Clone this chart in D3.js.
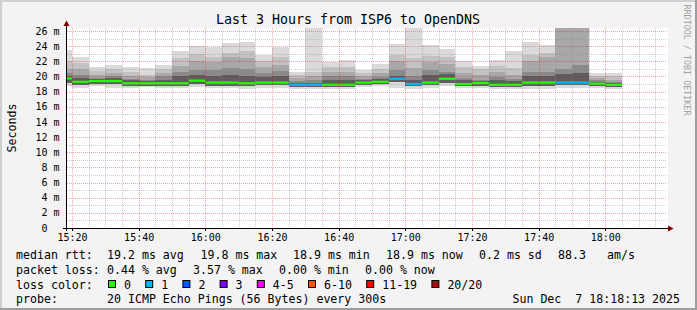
<!DOCTYPE html>
<html>
<head>
<meta charset="utf-8">
<script src="https://cdn.jsdelivr.net/npm/d3@7"></script>
<style>
body { margin: 0; background: #f3f3f3; }
text { font-family: "DejaVu Sans Mono", monospace; white-space: pre; }
</style>
</head>
<body>
<script>
// one slot = 5 min (300s), 20 pings per slot
var times = ["15:15","15:20","15:25","15:30","15:35","15:40","15:45","15:50","15:55","16:00",
             "16:05","16:10","16:15","16:20","16:25","16:30","16:35","16:40","16:45","16:50",
             "16:55","17:00","17:05","17:10","17:15","17:20","17:25","17:30","17:35","17:40",
             "17:45","17:50","17:55","18:00"];

// median rtt (ms)
var median = [19.75,19.3,19.4,19.4,19.1,19.1,19.1,19.1,19.45,19.2,
              19.2,19.1,19.2,19.2,18.9,18.9,18.9,18.9,19.2,19.3,
              19.7,19.0,19.2,19.7,19.0,19.15,18.9,18.9,19.2,19.2,
              19.2,19.2,19.05,18.9];

// lost pings out of 20
var lossCount = [0,0,0,0,0,0,0,0,0,0,
                 0,0,0,0,1,1,0,0,0,0,
                 1,1,0,0,0,0,0,0,0,0,
                 1,1,0,0];

// smoke: sorted ping ranks (ms)
var pingMax = [23.5,22.6,21.2,21.5,21.2,21.1,21.5,23.3,24.0,23.9,
               24.4,24.5,22.9,23.9,20.6,27.0,21.9,22.2,20.9,21.7,
               24.3,27.0,24.1,23.6,22.0,21.4,22.2,23.3,24.5,24.1,
               30.0,30.0,20.5,20.4];
var ping18 = [22.0,21.8,20.7,21.0,20.6,20.2,21.0,22.4,23.0,22.6,
              23.1,23.4,22.0,22.6,20.2,20.6,21.2,21.3,20.4,21.0,
              22.8,22.4,22.7,22.6,21.3,21.0,21.4,21.1,22.8,23.1,
              28.0,28.0,20.1,20.0];
var ping16 = [21.0,21.0,20.2,20.5,20.1,19.9,20.5,21.4,22.0,21.9,
              22.6,22.5,21.3,21.5,19.8,20.0,20.6,20.6,20.0,20.4,
              22.0,21.1,21.9,21.6,20.4,20.2,20.6,20.2,22.0,22.6,
              27.0,27.0,19.8,19.6];
var ping14 = [20.4,20.2,19.8,20.0,19.7,19.6,20.0,20.6,20.8,20.8,
              21.1,21.0,20.5,20.7,19.4,19.5,20.0,20.0,19.7,19.9,
              20.9,20.1,20.9,20.6,19.8,19.6,19.9,19.7,20.6,20.6,
              21.0,21.5,19.5,19.3];
var ping12 = [20.1,19.8,19.7,19.8,19.5,19.4,19.6,20.0,20.2,20.0,
              20.2,20.0,19.9,20.0,19.2,19.2,19.6,19.6,19.5,19.7,
              20.1,19.6,20.2,20.3,19.5,19.4,19.5,19.4,20.0,20.0,
              20.3,20.5,19.3,19.1];
var ping5 = [19.2,18.9,19.0,19.0,18.8,18.8,18.8,18.8,19.0,18.8,
             18.8,18.7,18.85,18.85,18.6,18.6,18.6,18.6,18.9,19.0,
             19.3,18.7,18.85,19.2,18.7,18.8,18.6,18.6,18.8,18.8,
             18.9,18.9,18.8,18.6];
var pingMin = [18.7,18.45,18.7,18.5,18.5,18.6,18.5,18.5,18.6,18.5,
               18.5,18.4,18.5,18.5,18.4,18.4,18.3,18.3,18.6,18.7,
               18.5,18.4,18.5,18.7,18.5,18.5,18.3,18.3,18.4,18.4,
               18.5,18.5,18.5,18.3];

var yTicks = [0,2,4,6,8,10,12,14,16,18,20,22,24,26];
var lossLabels = ["0","1","2","3","4-5","6-10","11-19","20/20"];
var lossColors = ["#26ff00","#00b8ff","#0059ff","#7e00ff","#ff00ff","#ff5500","#ff0000","#a01000"];

var screen = {width: 697, height: 310};
var plot = {left: 67, right: 667, top: 28, bottom: 228};

var toDate = function(s) {
    var p = s.split(":");
    return new Date(Date.UTC(2025, 11, 7, +p[0], +p[1]));
};

var xScale = d3.scaleUtc()
    .domain([new Date(Date.UTC(2025,11,7,15,18,30)), new Date(Date.UTC(2025,11,7,18,18,30))])
    .range([plot.left, plot.right]);
var yScale = d3.scaleLinear()
    .domain([0, 26.4])
    .range([plot.bottom, plot.top]);

var lossIndex = function(n) {
    if (n <= 3) return n;
    if (n <= 5) return 4;
    if (n <= 10) return 5;
    if (n <= 19) return 6;
    return 7;
};

var rows = times.map(function(t, i) {
    return {t0: toDate(t), t1: d3.utcMinute.offset(toDate(t), 5), med: median[i], loss: lossCount[i],
            p20: pingMax[i], p18: ping18[i], p16: ping16[i], p14: ping14[i], p12: ping12[i],
            p5: ping5[i], p1: pingMin[i]};
});

var svg = d3.select("body").append("svg")
    .attr("width", screen.width)
    .attr("height", screen.height);

svg.append("rect").attr("width", screen.width).attr("height", screen.height).attr("fill", "#f3f3f3");
// 3d frame
svg.append("rect").attr("x", 0).attr("y", 0).attr("width", screen.width).attr("height", 2).attr("fill", "#cfcfcf");
svg.append("rect").attr("x", 0).attr("y", 0).attr("width", 2).attr("height", screen.height).attr("fill", "#cfcfcf");
svg.append("rect").attr("x", screen.width - 2).attr("y", 0).attr("width", 2).attr("height", screen.height).attr("fill", "#9e9e9e");
svg.append("rect").attr("x", 0).attr("y", screen.height - 2).attr("width", screen.width).attr("height", 2).attr("fill", "#9e9e9e");

// canvas
svg.append("rect")
    .attr("x", plot.left).attr("y", plot.top)
    .attr("width", plot.right - plot.left + 1).attr("height", plot.bottom - plot.top)
    .attr("fill", "#ffffff");

svg.append("clipPath").attr("id", "clip")
    .append("rect")
    .attr("x", plot.left).attr("y", plot.top)
    .attr("width", plot.right - plot.left).attr("height", plot.bottom - plot.top);

// smoke bands, outer (light) to inner (dark)
var bands = [
    {lo: "p1", hi: "p20", color: "#dadada"},
    {lo: "p5", hi: "p18", color: "#c2c2c2"},
    {lo: "p5", hi: "p16", color: "#a8a8a8"},
    {lo: "p5", hi: "p14", color: "#8a8a8a"},
    {lo: "p5", hi: "p12", color: "#5e5e5e"}
];

var smoke = svg.append("g").attr("clip-path", "url(#clip)");
bands.forEach(function(b) {
    smoke.append("g")
        .selectAll("rect")
        .data(rows)
        .enter()
        .append("rect")
        .attr("x", function(d) { return xScale(d.t0); })
        .attr("width", function(d) { return xScale(d.t1) - xScale(d.t0); })
        .attr("y", function(d) { return yScale(d[b.hi]); })
        .attr("height", function(d) { return yScale(d[b.lo]) - yScale(d[b.hi]); })
        .attr("fill", b.color)
        .attr("shape-rendering", "crispEdges");
});

// median line coloured by loss
smoke.append("g")
    .selectAll("line")
    .data(rows)
    .enter()
    .append("line")
    .attr("x1", function(d) { return xScale(d.t0); })
    .attr("x2", function(d) { return xScale(d.t1); })
    .attr("y1", function(d) { return yScale(d.med); })
    .attr("y2", function(d) { return yScale(d.med); })
    .attr("stroke", function(d) { return lossColors[lossIndex(d.loss)]; })
    .attr("stroke-width", 2.2);

// grid on top of data
var px = function(v) { return Math.round(v) + 0.5; };
var grid = svg.append("g");
var minorX = xScale.ticks(d3.utcMinute.every(5)).filter(function(d) { return d.getUTCMinutes() % 20 != 0; });
var majorX = xScale.ticks(d3.utcMinute.every(20));
var minorY = d3.range(1, 27, 2);

grid.selectAll(".vminor").data(minorX).enter().append("line")
    .attr("x1", function(d) { return px(xScale(d)); }).attr("x2", function(d) { return px(xScale(d)); })
    .attr("y1", plot.top).attr("y2", plot.bottom)
    .attr("stroke", "rgba(143,143,143,0.45)").attr("stroke-dasharray", "1,1");
grid.selectAll(".hminor").data(minorY).enter().append("line")
    .attr("x1", plot.left).attr("x2", plot.right)
    .attr("y1", function(d) { return px(yScale(d)); }).attr("y2", function(d) { return px(yScale(d)); })
    .attr("stroke", "rgba(143,143,143,0.45)").attr("stroke-dasharray", "1,1");
grid.selectAll(".vmajor").data(majorX).enter().append("line")
    .attr("x1", function(d) { return px(xScale(d)); }).attr("x2", function(d) { return px(xScale(d)); })
    .attr("y1", plot.top).attr("y2", plot.bottom)
    .attr("stroke", "rgba(220,0,0,0.35)").attr("stroke-dasharray", "1,1");
grid.selectAll(".hmajor").data(yTicks.filter(function(v) { return v > 0; })).enter().append("line")
    .attr("x1", plot.left).attr("x2", plot.right)
    .attr("y1", function(d) { return px(yScale(d)); }).attr("y2", function(d) { return px(yScale(d)); })
    .attr("stroke", "rgba(220,0,0,0.35)").attr("stroke-dasharray", "1,1");

// axes
svg.append("line").attr("x1", 63).attr("x2", plot.right + 1)
    .attr("y1", plot.bottom + 0.5).attr("y2", plot.bottom + 0.5).attr("stroke", "#000");
svg.append("line").attr("x1", plot.left - 0.5).attr("x2", plot.left - 0.5)
    .attr("y1", plot.bottom + 3).attr("y2", 25).attr("stroke", "#000");
svg.append("path").attr("d", "M668,225.5L673.5,228.5L668,231.5Z").attr("fill", "#7f0000");
svg.append("path").attr("d", "M63.5,26L66.5,20.5L69.5,26Z").attr("fill", "#7f0000");

svg.selectAll(".xtick").data(majorX).enter().append("line")
    .attr("x1", function(d) { return px(xScale(d)); }).attr("x2", function(d) { return px(xScale(d)); })
    .attr("y1", plot.bottom).attr("y2", plot.bottom + 3).attr("stroke", "#000");

svg.selectAll(".xlabel").data(majorX).enter().append("text")
    .attr("x", function(d) { return xScale(d) + 0.5; })
    .attr("y", 240.5)
    .attr("text-anchor", "middle")
    .attr("font-size", "10px")
    .text(d3.utcFormat("%H:%M"));

svg.selectAll(".ylabel").data(yTicks).enter().append("text")
    .attr("x", 59.5)
    .attr("y", function(d) { return yScale(d) + 3.6; })
    .attr("text-anchor", "end")
    .attr("font-size", "10px")
    .text(function(d) { return d == 0 ? "0  " : d + " m"; });

// titles
svg.append("text").attr("x", 348).attr("y", 23.5).attr("text-anchor", "middle")
    .attr("font-size", "13.3px").text("Last 3 Hours from ISP6 to OpenDNS");
svg.append("text").attr("transform", "translate(16,128) rotate(-90)")
    .attr("text-anchor", "middle").attr("font-size", "11.6px").text("Seconds");
svg.append("text").attr("transform", "translate(683.5,60) rotate(90)")
    .attr("text-anchor", "middle").attr("font-size", "8.4px").attr("fill", "#a0a0a0")
    .text("RRDTOOL / TOBI OETIKER");

// legend (justified lines like rrdtool)
var legendRows = [
    {y: 258.5, parts: [["median rtt:", 16], ["19.2 ms avg", 107], ["19.8 ms max", 200.5], ["18.9 ms min", 293],
                       ["18.9 ms now", 386], ["0.2 ms sd", 479], ["88.3", 558], ["am/s", 607]]},
    {y: 273.5, parts: [["packet loss:", 16], ["0.44 % avg", 107], ["3.57 % max", 193], ["0.00 % min", 279],
                       ["0.00 % now", 365]]},
    {y: 288.5, parts: [["loss color:", 16]]},
    {y: 303, parts: [["probe:", 16], ["20 ICMP Echo Pings (56 Bytes) every 300s", 107]]}
];
legendRows.forEach(function(r) {
    svg.append("g").selectAll("text").data(r.parts).enter().append("text")
        .attr("x", function(d) { return d[1]; })
        .attr("y", r.y)
        .attr("font-size", "11.6px")
        .text(function(d) { return d[0]; });
});
svg.append("text").attr("x", 680).attr("y", 303).attr("text-anchor", "end")
    .attr("font-size", "11.6px").text("Sun Dec  7 18:18:13 2025");

var lx = 108.5;
lossLabels.forEach(function(lab, i) {
    svg.append("rect").attr("x", lx).attr("y", 280.5).attr("width", 7).attr("height", 7)
        .attr("fill", lossColors[i]).attr("stroke", "#000");
    svg.append("text").attr("x", lx + 15.5).attr("y", 288.5).attr("font-size", "11.6px").text(lab);
    lx = lx + 15.5 + lab.length * 7 + 14.7;
});
</script>
</body>
</html>
